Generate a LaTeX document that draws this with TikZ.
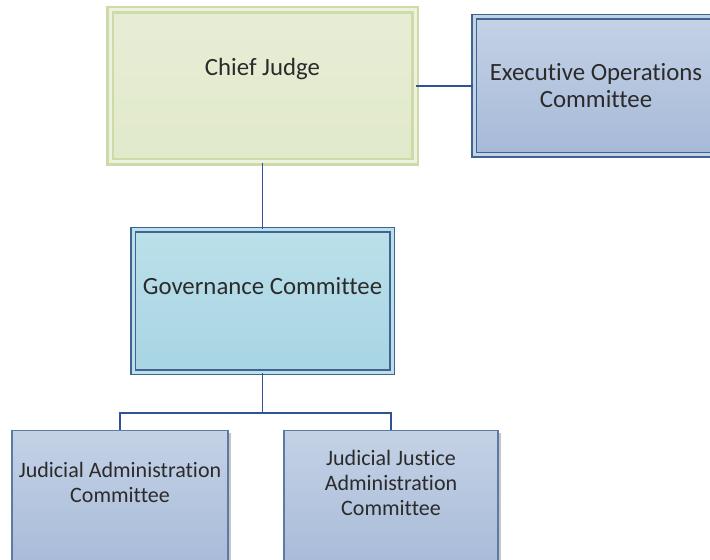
\documentclass[tikz,border=0pt]{standalone}
\usepackage{fontspec}
\setmainfont[Ligatures=NoCommon]{Carlito}
\usetikzlibrary{positioning, shadows, calc}

\definecolor{cjfill}{HTML}{E1E9CB}
\definecolor{cjedge}{HTML}{CDDBA6}
\definecolor{bluetop}{HTML}{C4D2E6}
\definecolor{bluebot}{HTML}{A6B9D7}
\definecolor{blueedge}{HTML}{3F6393}
\definecolor{govtop}{HTML}{BBE0EA}
\definecolor{govbot}{HTML}{A8D5E3}
\definecolor{linkblue}{HTML}{2F5496}
\definecolor{txtgray}{HTML}{2B2B2B}

\begin{document}
\begin{tikzpicture}[
        base/.style={inner sep=0pt, drop shadow={shadow xshift=1.5pt, shadow yshift=-1.5pt, opacity=0.45}},
        chief/.style={base, draw=cjedge, line width=1.2pt, double=cjfill!60!white, double distance=1.5pt,
                      top color=cjfill!80!white, bottom color=cjfill},
        execbox/.style={base, draw=blueedge, line width=0.8pt, double=bluetop, double distance=1.5pt,
                        top color=bluetop, bottom color=bluebot},
        govbox/.style={base, draw=blueedge, line width=0.8pt, double=govtop, double distance=1.5pt,
                       top color=govtop, bottom color=govbot},
        judbox/.style={base, draw=blueedge!85, line width=0.6pt, top color=bluetop, bottom color=bluebot},
        boxtext/.style={align=center, text=txtgray, font=\fontsize{12.4}{13.5}\selectfont},
        smalltext/.style={boxtext, font=\fontsize{11}{12.5}\selectfont},
        link/.style={draw=linkblue, line width=0.7pt}
    ]
    \useasboundingbox (0,0) rectangle (355pt,-280pt);

    % Boxes
    \node[chief, minimum width=152.5pt, minimum height=76pt] (cj) at (131.25pt,-43pt) {};
    \node[execbox, minimum width=122pt, minimum height=69pt, right=28.5pt of cj] (exec) {};
    \node[govbox, minimum width=129.5pt, minimum height=71pt, below=33pt of cj] (gov) {};
    \node[judbox, minimum width=108pt, minimum height=72pt, below=28.5pt of gov, xshift=-71.25pt] (jadm) {};
    \node[judbox, minimum width=107pt, minimum height=72pt, below=28.5pt of gov, xshift=64.25pt] (jjus) {};

    % Texts
    \node[boxtext] (cjtext) at ([yshift=-30pt]cj.north) {Chief Judge};
    \node[boxtext] (exectext) at (exec.center) {Executive Operations\\Committee};
    \node[boxtext] (govtext) at ([yshift=-28.5pt]gov.north) {Governance Committee};
    \node[smalltext] (jadmtext) at ([yshift=-26.5pt]jadm.north) {Judicial Administration\\Committee};
    \node[smalltext] (jjustext) at ([yshift=-26.5pt]jjus.north) {Judicial Justice\\Administration\\Committee};

    % Lines
    \coordinate (split) at ($(gov.south)+(0,-20pt)$);
    \draw[link] (cj.east) -- (exec.west);
    \draw[link] (cj.south) -- (gov.north);
    \draw[link] (gov.south) -- (split);
    \draw[link] (split) -| (jadm.north);
    \draw[link] (split) -| (jjus.north);

\end{tikzpicture}
\end{document}
